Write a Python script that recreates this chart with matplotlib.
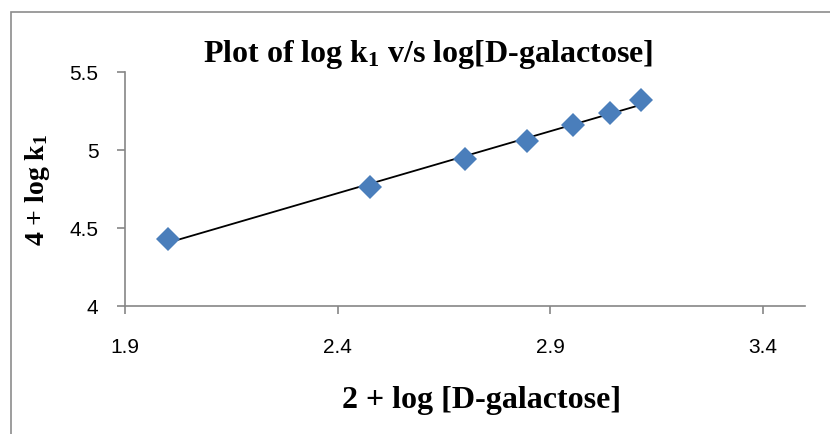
import numpy as np
import matplotlib.pyplot as plt
from matplotlib.patches import Rectangle

# 2 + log[D-galactose] and 4 + log k1
log_conc = [2.000, 2.477, 2.699, 2.845, 2.954, 3.041, 3.114]
log_k1 = [4.43, 4.76, 4.94, 5.06, 5.16, 5.24, 5.32]

x_ticks = [1.9, 2.4, 2.9, 3.4]
y_ticks = [4, 4.5, 5, 5.5]

W, H = 830, 434
plt.rcParams['mathtext.default'] = 'regular'
fig = plt.figure(figsize=(W / 100, H / 100), dpi=100)

# chart frame (runs off the right and bottom edges)
fig.patches.append(Rectangle((11 / W, -0.1), 1.2, 1 - 12 / H + 0.1,
                             transform=fig.transFigure, fill=False,
                             edgecolor='#8c8c8c', linewidth=1.2))

ax = fig.add_axes([125 / W, 1 - 306 / H, (805 - 125) / W, (306 - 72) / H])

# least-squares trend line over the data range
slope, icpt = np.polyfit(log_conc, log_k1, 1)
xs = np.array([min(log_conc), max(log_conc)])
ax.plot(xs, slope * xs + icpt, color='black', linewidth=1.3, zorder=2)

ax.plot(log_conc, log_k1, linestyle='none', marker='D', markersize=12,
        color='#4a7ebb', markeredgewidth=0, zorder=3)

ax.set_xlim(1.9, 3.5)
ax.set_ylim(4, 5.5)
ax.set_xticks(x_ticks)
ax.set_yticks(y_ticks)
ax.set_xticklabels([f'{v:g}' for v in x_ticks])
ax.set_yticklabels([f'{v:g}' for v in y_ticks])

for lab in ax.get_xticklabels() + ax.get_yticklabels():
    lab.set_family(['Liberation Sans', 'DejaVu Sans'])
    lab.set_fontsize(15)

for side in ('top', 'right'):
    ax.spines[side].set_visible(False)
for side in ('left', 'bottom'):
    ax.spines[side].set_color('#868686')
    ax.spines[side].set_linewidth(1.2)
ax.tick_params(axis='both', direction='out', length=6, width=1.2,
               color='#868686')
ax.tick_params(axis='x', pad=17)
ax.tick_params(axis='y', pad=13)

serif = ['Liberation Serif', 'DejaVu Serif']
fig.text(428 / W, 1 - 62 / H, r'Plot of log k$_\mathregular{1}$ v/s log[D-galactose]',
         family=serif, fontweight='bold', fontsize=23,
         ha='center', va='baseline')
fig.text(482 / W, 1 - 408 / H, '2 + log [D-galactose]',
         family=serif, fontweight='bold', fontsize=23,
         ha='center', va='baseline')
fig.text(38 / W, 1 - 190 / H, r'4 + log k$_\mathregular{1}$',
         family=serif, fontweight='bold', fontsize=20,
         ha='center', va='center', rotation=90)

fig.savefig('out.png', dpi=100)
